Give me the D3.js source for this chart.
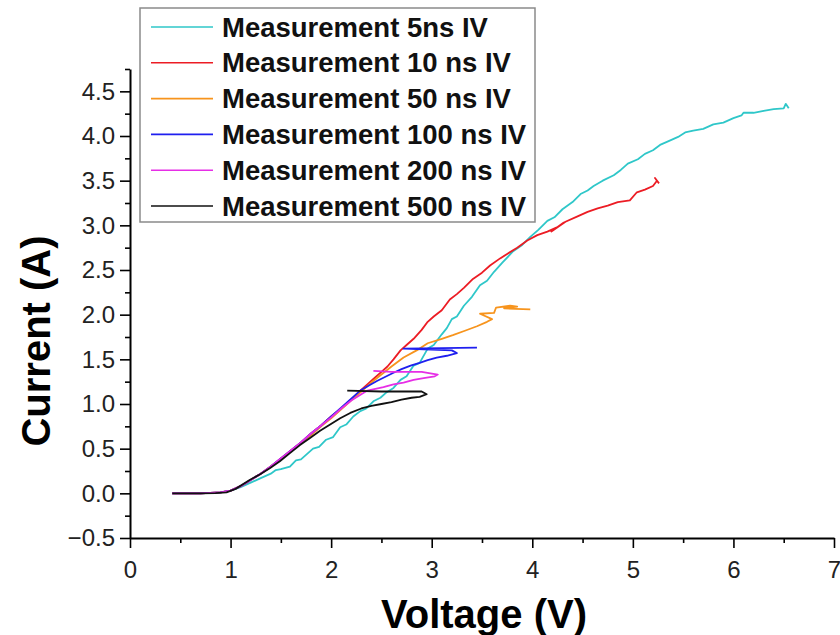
<!DOCTYPE html>
<html>
<head>
<meta charset="utf-8">
<script src="https://cdn.jsdelivr.net/npm/d3@7"></script>
<style>
    body { margin: 0; background: #fff; }
    text { font-family: "Liberation Sans", Arial, sans-serif; }
</style>
</head>
<body>
<div id="plot"></div>
<script>
const width = 840;
const height = 635;

// series labels and colours, same order as the legend
const series_names = ["Measurement 5ns IV", "Measurement 10 ns IV", "Measurement 50 ns IV",
    "Measurement 100 ns IV", "Measurement 200 ns IV", "Measurement 500 ns IV"];
const series_colors = ["#2fc7c9", "#ec1c24", "#f7941d", "#1f1fef", "#e62ee6", "#111111"];

// [voltage (V), current (A)]
const iv_5ns = [[0.42, 0], [0.7, 0], [0.9, 0.01], [1.0, 0.03], [1.1, 0.07], [1.2, 0.12], [1.3, 0.17],
    [1.4, 0.22], [1.45, 0.26], [1.5, 0.27], [1.59, 0.3], [1.65, 0.37], [1.7, 0.38], [1.82, 0.5],
    [1.88, 0.52], [1.95, 0.6], [2.02, 0.63], [2.09, 0.74], [2.15, 0.77], [2.22, 0.86], [2.29, 0.92],
    [2.35, 0.95], [2.42, 1.03], [2.49, 1.07], [2.55, 1.13], [2.62, 1.18], [2.69, 1.27], [2.75, 1.31],
    [2.82, 1.43], [2.88, 1.46], [2.96, 1.62], [3.02, 1.66], [3.1, 1.78], [3.15, 1.85], [3.2, 1.95],
    [3.25, 1.98], [3.32, 2.1], [3.4, 2.2], [3.48, 2.33], [3.55, 2.38], [3.62, 2.48], [3.7, 2.58],
    [3.81, 2.71], [3.9, 2.78], [3.98, 2.87], [4.06, 2.95], [4.15, 3.05], [4.22, 3.09], [4.3, 3.18],
    [4.4, 3.26], [4.48, 3.35], [4.55, 3.39], [4.61, 3.44], [4.7, 3.5], [4.81, 3.56], [4.88, 3.62],
    [4.95, 3.69], [5.05, 3.74], [5.12, 3.8], [5.2, 3.84], [5.27, 3.9], [5.35, 3.94], [5.45, 3.99],
    [5.52, 4.04], [5.6, 4.06], [5.7, 4.08], [5.8, 4.13], [5.9, 4.15], [6.0, 4.2], [6.08, 4.23],
    [6.1, 4.26], [6.2, 4.26], [6.3, 4.28], [6.4, 4.3], [6.5, 4.31], [6.52, 4.36], [6.55, 4.31]];
const iv_10ns = [[0.42, 0], [0.7, 0], [0.9, 0.01], [1.0, 0.03], [1.1, 0.08], [1.2, 0.15], [1.3, 0.22],
    [1.4, 0.3], [1.5, 0.39], [1.6, 0.48], [1.7, 0.57], [1.8, 0.67], [1.9, 0.76], [2.0, 0.86],
    [2.1, 0.95], [2.2, 1.05], [2.29, 1.15], [2.36, 1.22], [2.42, 1.28], [2.5, 1.36], [2.56, 1.42],
    [2.62, 1.5], [2.69, 1.6], [2.75, 1.66], [2.82, 1.73], [2.9, 1.83], [2.96, 1.92], [3.02, 1.98],
    [3.1, 2.05], [3.18, 2.17], [3.25, 2.23], [3.32, 2.3], [3.41, 2.4], [3.5, 2.47], [3.58, 2.55],
    [3.68, 2.63], [3.75, 2.68], [3.85, 2.75], [3.95, 2.83], [4.05, 2.89], [4.15, 2.93], [4.25, 2.98],
    [4.31, 3.03], [4.19, 2.93], [4.33, 3.04], [4.45, 3.1], [4.55, 3.15], [4.65, 3.19], [4.75, 3.22],
    [4.85, 3.26], [4.97, 3.28], [5.04, 3.37], [5.12, 3.4], [5.2, 3.44], [5.24, 3.5], [5.22, 3.53],
    [5.26, 3.47]];
const iv_50ns = [[0.42, 0], [0.7, 0], [0.9, 0.01], [1.0, 0.03], [1.1, 0.08], [1.2, 0.15], [1.3, 0.22],
    [1.4, 0.3], [1.5, 0.38], [1.6, 0.47], [1.7, 0.56], [1.8, 0.65], [1.9, 0.75], [2.0, 0.84],
    [2.1, 0.94], [2.2, 1.04], [2.3, 1.14], [2.4, 1.24], [2.5, 1.33], [2.6, 1.42], [2.72, 1.52],
    [2.85, 1.6], [2.96, 1.68], [3.1, 1.73], [3.21, 1.77], [3.33, 1.82], [3.45, 1.87], [3.55, 1.92],
    [3.6, 1.95], [3.48, 2.01], [3.62, 2.02], [3.64, 2.08], [3.78, 2.1], [3.85, 2.09], [3.72, 2.07],
    [3.98, 2.06]];
const iv_100ns = [[0.42, 0], [0.7, 0], [0.9, 0.01], [1.0, 0.03], [1.1, 0.08], [1.2, 0.15], [1.3, 0.22],
    [1.4, 0.3], [1.5, 0.39], [1.6, 0.48], [1.7, 0.57], [1.8, 0.67], [1.9, 0.76], [2.0, 0.86],
    [2.1, 0.96], [2.2, 1.06], [2.29, 1.15], [2.38, 1.21], [2.46, 1.26], [2.55, 1.31], [2.62, 1.35],
    [2.7, 1.39], [2.79, 1.43], [2.88, 1.46], [2.96, 1.49], [3.05, 1.52], [3.15, 1.54], [3.25, 1.57],
    [3.2, 1.6], [2.72, 1.62], [3.1, 1.625], [3.45, 1.63]];
const iv_200ns = [[0.42, 0], [0.7, 0], [0.9, 0.01], [1.0, 0.03], [1.1, 0.08], [1.2, 0.15], [1.3, 0.22],
    [1.4, 0.3], [1.5, 0.39], [1.6, 0.48], [1.7, 0.57], [1.8, 0.67], [1.9, 0.76], [2.0, 0.85],
    [2.1, 0.95], [2.2, 1.04], [2.3, 1.11], [2.36, 1.15], [2.44, 1.17], [2.52, 1.19], [2.62, 1.22],
    [2.72, 1.24], [2.82, 1.27], [2.92, 1.29], [3.03, 1.31], [3.06, 1.33], [2.9, 1.36], [2.6, 1.36],
    [2.42, 1.37]];
const iv_500ns = [[0.42, 0], [0.7, 0], [0.85, 0.003], [0.96, 0.01], [1.05, 0.05], [1.19, 0.15],
    [1.29, 0.21], [1.39, 0.28], [1.49, 0.36], [1.59, 0.45], [1.69, 0.54], [1.79, 0.62], [1.89, 0.7],
    [1.99, 0.77], [2.09, 0.84], [2.19, 0.9], [2.3, 0.95], [2.4, 0.98], [2.5, 1.0], [2.6, 1.02],
    [2.7, 1.05], [2.8, 1.07], [2.88, 1.08], [2.95, 1.11], [2.9, 1.14], [2.5, 1.14], [2.16, 1.15]];

const all_series = [iv_5ns, iv_10ns, iv_50ns, iv_100ns, iv_200ns, iv_500ns];

const x_major = [0, 1, 2, 3, 4, 5, 6, 7];
const x_minor = [0.5, 1.5, 2.5, 3.5, 4.5, 5.5, 6.5];
const y_major = [-0.5, 0, 0.5, 1, 1.5, 2, 2.5, 3, 3.5, 4, 4.5];
const y_minor = [-0.25, 0.25, 0.75, 1.25, 1.75, 2.25, 2.75, 3.25, 3.75, 4.25, 4.75];

const scale_x = d3.scaleLinear().domain([0, 7]).range([130, 834]);
const scale_y = d3.scaleLinear().domain([-0.5, 4.75]).range([538, 69]);

const svg = d3.select("#plot").append("svg")
    .attr("width", width)
    .attr("height", height);

// curves, black last so it sits on top like the original
const line = d3.line().x(d => scale_x(d[0])).y(d => scale_y(d[1]));
svg.append("g")
    .attr("fill", "none")
    .attr("stroke-width", 1.8)
    .attr("stroke-linejoin", "round")
    .selectAll("path")
    .data(all_series)
    .join("path")
    .attr("stroke", (d, i) => series_colors[i])
    .attr("d", line);

// axes: major ticks with labels, minor ticks without
const style_axis = function (g) {
    g.select(".domain").attr("stroke-width", 2);
    g.selectAll(".tick line").attr("stroke-width", 1.6);
    g.selectAll(".tick text")
        .attr("font-size", 24)
        .attr("font-family", "\"Liberation Sans\", Arial, sans-serif")
        .attr("fill", "#222");
};

svg.append("g")
    .attr("transform", `translate(0,${scale_y(-0.5)})`)
    .call(d3.axisBottom(scale_x).tickValues(x_major).tickSize(10).tickSizeOuter(0).tickPadding(13)
        .tickFormat(d3.format("d")))
    .call(style_axis);
svg.append("g")
    .attr("transform", `translate(0,${scale_y(-0.5)})`)
    .call(d3.axisBottom(scale_x).tickValues(x_minor).tickSize(5).tickFormat(""))
    .call(g => g.select(".domain").remove())
    .call(style_axis);

svg.append("g")
    .attr("transform", `translate(${scale_x(0)},0)`)
    .call(d3.axisLeft(scale_y).tickValues(y_major).tickSize(10).tickSizeOuter(0).tickPadding(5)
        .tickFormat(d3.format(".1f")))
    .call(style_axis);
svg.append("g")
    .attr("transform", `translate(${scale_x(0)},0)`)
    .call(d3.axisLeft(scale_y).tickValues(y_minor).tickSize(5).tickFormat(""))
    .call(g => g.select(".domain").remove())
    .call(style_axis);

// axis titles
svg.append("text")
    .attr("x", 484)
    .attr("y", 628)
    .attr("text-anchor", "middle")
    .attr("font-size", 40)
    .attr("font-weight", "bold")
    .text("Voltage (V)");

svg.append("text")
    .attr("transform", "translate(50,341) rotate(-90)")
    .attr("text-anchor", "middle")
    .attr("font-size", 40)
    .attr("font-weight", "bold")
    .text("Current (A)");

// legend
const legend = svg.append("g");
legend.append("rect")
    .attr("x", 140).attr("y", 8)
    .attr("width", 395).attr("height", 214)
    .attr("fill", "#fff")
    .attr("stroke", "#8a8a8a")
    .attr("stroke-width", 1.5);

const rows = legend.selectAll("g.row")
    .data(series_names)
    .join("g")
    .attr("class", "row")
    .attr("transform", (d, i) => `translate(0,${27 + i * 35.8})`);
rows.append("line")
    .attr("x1", 151).attr("x2", 213)
    .attr("stroke", (d, i) => series_colors[i])
    .attr("stroke-width", 1.6);
rows.append("text")
    .attr("x", 222)
    .attr("dy", "0.35em")
    .attr("font-size", 27.5)
    .attr("font-weight", "bold")
    .attr("fill", "#111")
    .text(d => d);
</script>
</body>
</html>
